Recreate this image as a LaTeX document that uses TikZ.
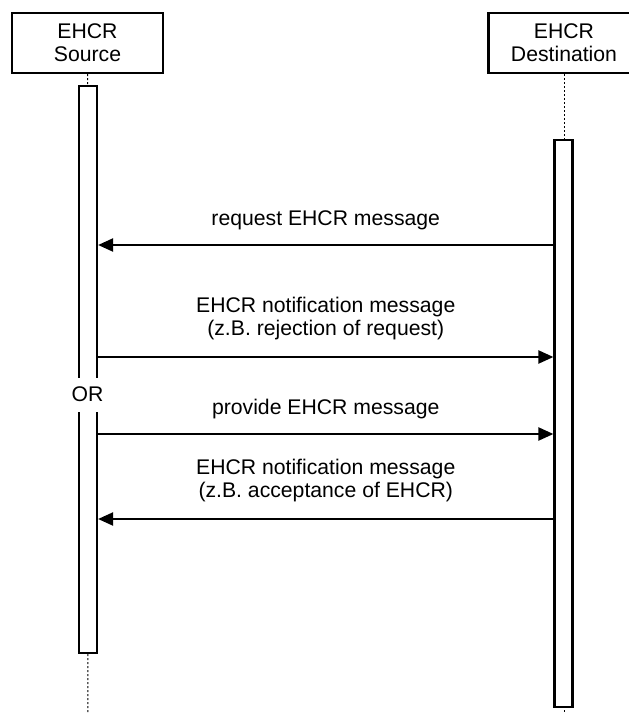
\documentclass[tikz,border=0pt]{standalone}
\usepackage{fontspec}
\setmainfont{Liberation Sans}
\usetikzlibrary{arrows.meta}
\begin{document}
\begin{tikzpicture}[x=1pt, y=-1pt, every node/.style={font=\fontsize{21.2}{23}\selectfont}]
    \tikzstyle{actor} = [rectangle, minimum width=151pt, minimum height=60pt, draw=black, line width=2.2pt, fill=white, align=center, inner sep=0pt]
    \tikzstyle{bar} = [rectangle, minimum width=18pt, draw=black, line width=2.2pt, fill=white, inner sep=0pt]
    \tikzstyle{lifeline} = [line width=1pt, dash pattern=on 2pt off 2pt]
    \tikzstyle{msg} = [line width=2.2pt, -{Triangle[length=15pt,width=13pt]}]
    \tikzstyle{msglabel} = [align=center, above=11.5pt, inner sep=3pt]
    \useasboundingbox (0,0) rectangle (629,713);
    \clip (0,0) rectangle (629,713);
    % Nodes
    \node (src) [actor] at (87.5,43) {EHCR\\Source};
    \node (dst) [actor] at (564,43) {EHCR\\Destination};
    \coordinate (srcend) at (88,713);
    \coordinate (dstend) at (564,713);
    \draw [lifeline] (src.south) -- (srcend);
    \draw [lifeline] (dst.south) -- (dstend);
    \node (srcbar) [bar, minimum height=567pt] at (88,369.5) {};
    \node (dstbar) [bar, minimum height=567pt] at (563.5,423.5) {};
    \node (or) [fill=white, minimum height=34pt, inner sep=2pt] at (87.5,394.5) {OR};
    % Arrows
    \coordinate (m1) at (0,245);
    \coordinate (m2) at (0,357);
    \coordinate (m3) at (0,434);
    \coordinate (m4) at (0,519);
    \draw [msg] (m1 -| dstbar.west) -- node[msglabel] {request EHCR message} (m1 -| srcbar.east);
    \draw [msg] (m2 -| srcbar.east) -- node[msglabel, yshift=1.5pt] {EHCR notification message\\(z.B. rejection of request)} (m2 -| dstbar.west);
    \draw [msg] (m3 -| srcbar.east) -- node[msglabel] {provide EHCR message} (m3 -| dstbar.west);
    \draw [msg] (m4 -| dstbar.west) -- node[msglabel, yshift=1.5pt] {EHCR notification message\\(z.B. acceptance of EHCR)} (m4 -| srcbar.east);
\end{tikzpicture}
\end{document}
